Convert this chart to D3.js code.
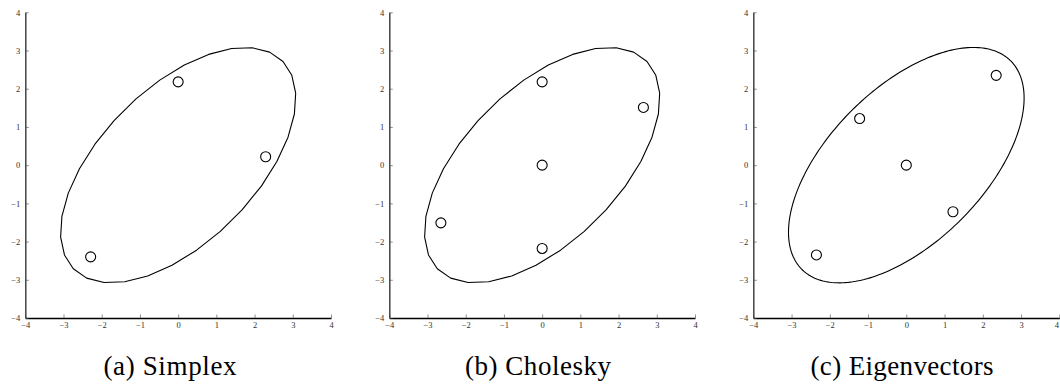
<!DOCTYPE html>
<html>
<head>
<meta charset="utf-8">
<script src="https://cdn.jsdelivr.net/npm/d3@7"></script>
<style>
  html, body { margin: 0; padding: 0; background: #fff; }
  svg { display: block; }
  .tick text { font-family: "Liberation Serif", serif; font-size: 8.5px; fill: #333; }
  .caption { font-family: "Liberation Serif", serif; font-size: 27px; fill: #000; }
</style>
</head>
<body>
<svg id="chart" width="1060" height="385"></svg>
<script>
// Axis ticks shared by all three panels
const tickValues = [-4, -3, -2, -1, 0, 1, 2, 3, 4];

// Panel captions
const captions = ["(a) Simplex", "(b) Cholesky", "(c) Eigenvectors"];

// Sigma points for each scheme
const simplexX = [0, 2.29, -2.29];
const simplexY = [2.18, 0.22, -2.40];
const choleskyX = [0, 2.65, 0, -2.65, 0];
const choleskyY = [2.18, 1.51, 0, -1.51, -2.18];
const eigenX = [2.35, -1.22, 0, 1.22, -2.35];
const eigenY = [2.35, 1.22, 0, -1.22, -2.35];

// Covariance contour: common std-dev and correlation, and how finely it is sampled
const contourSd = 3.08;
const contourRho = 0.57;
const contourSegments = [30, 30, 240];
const contourPhase = [3, 3, 0];

const panels = [
  { xs: simplexX, ys: simplexY, left: 25.3, right: 331, capX: 170, capW: 133 },
  { xs: choleskyX, ys: choleskyY, left: 389.3, right: 695, capX: 538, capW: 146 },
  { xs: eigenX, ys: eigenY, left: 753.3, right: 1059.3, capX: 902, capW: 183 }
];
const plotTop = 12.3, plotBottom = 318;

const svg = d3.select("#chart");

panels.forEach((p, i) => {
  const x = d3.scaleLinear().domain([-4, 4]).range([p.left, p.right]);
  const y = d3.scaleLinear().domain([-4, 4]).range([plotBottom, plotTop]);
  const g = svg.append("g");

  // axes with inward ticks
  const xAxis = g.append("g")
    .attr("transform", `translate(0,${plotBottom})`)
    .call(d3.axisBottom(x).tickValues(tickValues).tickSize(-3.5).tickSizeOuter(0).tickPadding(4));
  xAxis.select(".domain").attr("stroke", "#000").attr("stroke-width", 1.3);
  xAxis.selectAll(".tick line").attr("stroke", "#444").attr("stroke-width", 0.6);
  // keep the last label of the rightmost panel inside the page
  xAxis.selectAll(".tick text")
    .attr("dx", d => (p.right > 1050 && d === 4) ? -3 : 0);

  const yAxis = g.append("g")
    .attr("transform", `translate(${p.left},0)`)
    .call(d3.axisLeft(y).tickValues(tickValues).tickSize(-3.5).tickSizeOuter(0).tickPadding(5));
  yAxis.select(".domain").attr("stroke", "#444").attr("stroke-width", 1.5);
  yAxis.selectAll(".tick line").attr("stroke", "#444").attr("stroke-width", 0.6);

  // covariance ellipse, parameterised through its Cholesky factor
  const n = contourSegments[i];
  const ph = contourPhase[i] * Math.PI / 180;
  const k = Math.sqrt(1 - contourRho * contourRho);
  const pts = d3.range(n + 1).map(j => {
    const t = ph + 2 * Math.PI * j / n;
    const cx = contourSd * Math.cos(t);
    const cy = contourSd * (contourRho * Math.cos(t) + k * Math.sin(t));
    return [x(cx), y(cy)];
  });
  g.append("path")
    .attr("d", d3.line()(pts))
    .attr("fill", "none")
    .attr("stroke", "#000")
    .attr("stroke-width", 1.1)
    .attr("stroke-linejoin", "round");

  // sigma points
  g.selectAll("circle.pt")
    .data(p.xs.map((v, j) => [v, p.ys[j]]))
    .join("circle")
    .attr("class", "pt")
    .attr("cx", d => x(d[0]))
    .attr("cy", d => y(d[1]))
    .attr("r", 5)
    .attr("fill", "#fff")
    .attr("stroke", "#000")
    .attr("stroke-width", 1.1);

  g.append("text")
    .attr("class", "caption")
    .attr("x", p.capX)
    .attr("y", 375)
    .attr("text-anchor", "middle")
    .attr("textLength", p.capW)
    .attr("lengthAdjust", "spacing")
    .text(captions[i]);
});
</script>
</body>
</html>
